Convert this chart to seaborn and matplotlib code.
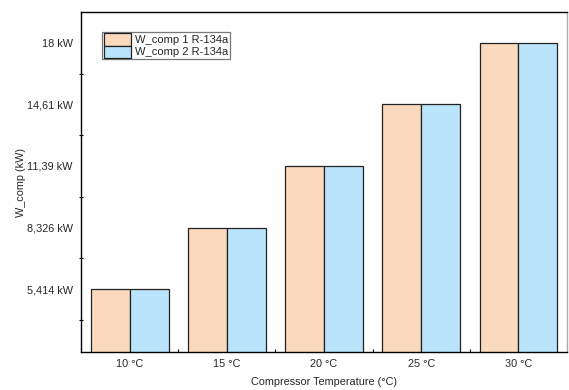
import matplotlib
matplotlib.use("Agg")
import matplotlib.pyplot as plt
import numpy as np
import pandas as pd
import seaborn as sns

# chart data
temps = ["10 °C", "15 °C", "20 °C", "25 °C", "30 °C"]
w_comp_1 = [5.414, 8.326, 11.39, 14.61, 18.0]
w_comp_2 = [5.414, 8.326, 11.39, 14.61, 18.0]
series_names = ["W_comp 1 R-134a", "W_comp 2 R-134a"]
tick_vals = [5.414, 8.326, 11.39, 14.61, 18.0]
tick_labels = ["5,414 kW", "8,326 kW", "11,39 kW", "14,61 kW", "18 kW"]

df = pd.DataFrame({
    "temp": temps * 2,
    "w": w_comp_1 + w_comp_2,
    "series": [series_names[0]] * len(temps) + [series_names[1]] * len(temps),
})

# the original axis puts its labelled ticks evenly apart -> piecewise linear scale
tv = np.array(tick_vals)
ti = np.arange(len(tv), dtype=float)


def fwd(v):
    v = np.asarray(v, dtype=float)
    out = np.interp(v, tv, ti)
    lo_slope = tv[1] - tv[0]
    hi_slope = tv[-1] - tv[-2]
    out = np.where(v < tv[0], (v - tv[0]) / lo_slope, out)
    out = np.where(v > tv[-1], ti[-1] + (v - tv[-1]) / hi_slope, out)
    return out


def inv(p):
    p = np.asarray(p, dtype=float)
    out = np.interp(p, ti, tv)
    lo_slope = tv[1] - tv[0]
    hi_slope = tv[-1] - tv[-2]
    out = np.where(p < 0, tv[0] + p * lo_slope, out)
    out = np.where(p > ti[-1], tv[-1] + (p - ti[-1]) * hi_slope, out)
    return out


sns.set_style("white")
plt.rcParams["font.family"] = ["Liberation Sans", "DejaVu Sans"]

fig = plt.figure(figsize=(5.69, 3.9), dpi=100)
ax = fig.add_axes([0.1424, 0.0974, 0.8541, 0.8718])

sns.barplot(data=df, x="temp", y="w", hue="series",
            palette=["#FAD9BD", "#B9E4FB"], saturation=1, width=0.8, gap=0,
            edgecolor="#222222", linewidth=0.9, ax=ax)

ax.set_yscale("function", functions=(fwd, inv))
ax.set_ylim(inv(-1.02), inv(4.5))
ax.set_xlim(-0.5, 4.5)
ax.set_yticks(tick_vals)
ax.set_yticklabels(tick_labels)
ax.set_yticks(inv(np.arange(-0.5, 4.0, 1.0)), minor=True)
ax.set_xticks(np.arange(0.5, 4.0, 1.0), minor=True)

ax.tick_params(axis="y", which="major", direction="out", length=4, width=0.8,
               labelsize=7.8, pad=2, color="black")
ax.tick_params(axis="y", which="minor", direction="inout", length=3, width=0.8,
               color="black", left=True)
ax.tick_params(axis="x", which="major", length=0, labelsize=7.8, pad=5)
ax.tick_params(axis="x", which="minor", direction="in", length=2, width=0.8,
               color="black", bottom=True)

ax.set_xlabel("Compressor Temperature (°C)", fontsize=7.8, labelpad=6)
ax.set_ylabel("W_comp (kW)", fontsize=7.8, labelpad=0.5)

for side in ["left", "bottom", "top"]:
    ax.spines[side].set_color("black")
    ax.spines[side].set_linewidth(1.0)
ax.spines["right"].set_color("#aaaaaa")
ax.spines["right"].set_linewidth(1.0)

handles, labels = ax.get_legend_handles_labels()
leg = ax.legend(handles, labels, loc="upper left", bbox_to_anchor=(0.043, 0.942),
                fontsize=8, frameon=True, fancybox=False, edgecolor="#555555",
                handlelength=2.5, handleheight=1.3, handletextpad=0.3,
                labelspacing=0.0, borderpad=0.15, borderaxespad=0.0)
leg.get_frame().set_linewidth(0.9)

fig.savefig("out.png", dpi=100)
